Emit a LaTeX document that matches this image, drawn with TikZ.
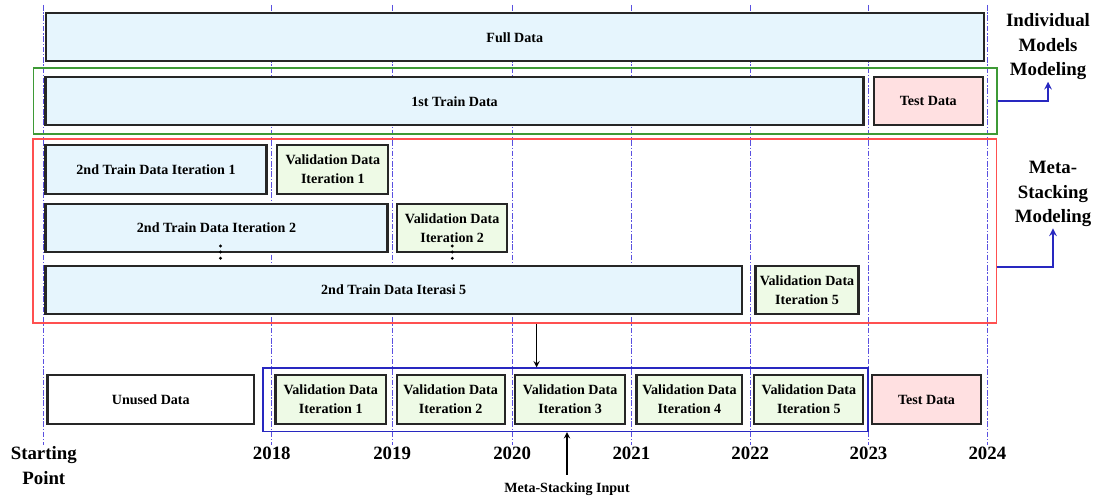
\documentclass[tikz,border=0pt]{standalone}
\usepackage{fontspec}
\setmainfont{Liberation Serif}
\usepackage{tikz}
\usepackage{xcolor}
\usetikzlibrary{positioning, fit, arrows.meta, calc}

\definecolor{trainfill}{HTML}{E6F5FD}
\definecolor{valfill}{HTML}{EEFAE6}
\definecolor{testfill}{HTML}{FFE0E1}
\definecolor{gridblue}{HTML}{5A50E0}
\definecolor{greenframe}{HTML}{3E9A36}
\definecolor{redframe}{HTML}{FF5050}
\definecolor{blueframe}{HTML}{2828C0}

\begin{document}
\begin{tikzpicture}[>=stealth, x=0.025cm, y=-0.025cm,
    font=\bfseries\fontsize{10}{13.5}\selectfont,
    databox/.style={draw=black!85, line width=1.6pt, inner sep=0pt, align=center},
    trainbox/.style={databox, fill=trainfill},
    valbox/.style={databox, fill=valfill},
    testbox/.style={databox, fill=testfill},
    boxsize/.style 2 args={minimum width=#1*0.025cm, minimum height=#2*0.025cm},
    frame/.style={inner sep=0pt, line width=1.1pt},
    gridline/.style={gridblue, line width=0.7pt, dash pattern=on 4pt off 1.2pt on 1pt off 1.2pt},
    yearlabel/.style={font=\bfseries\fontsize{13.4}{17.6}\selectfont, align=center, inner sep=1pt, anchor=north},
    sidelabel/.style={font=\bfseries\fontsize{13.4}{17.4}\selectfont, align=center, inner sep=1pt},
    linkarrow/.style={->, blueframe, line width=1.4pt},
    droparrow/.style={->, black, line width=1pt}
]
    % Fix the page size to the reference
    \useasboundingbox (0,0) rectangle (1102,499);

    % Time axis: labels and dashed year lines
    \node[yearlabel] (start) at (43.8,445) {Starting\\Point};
    \draw[gridline] (43.8,5) -- (start.north);
    \foreach \gx/\yr in {271.8/2018, 392.1/2019, 512.1/2020, 631.4/2021, 750.3/2022, 868.5/2023, 987.4/2024} {
        \node[yearlabel] (yr\yr) at (\gx,445) {\yr};
        \draw[gridline] (\gx,5) -- (yr\yr.north);
    }

    % Frames round the two modeling stages
    \node[frame, draw=greenframe, line width=1.4pt, fit={(33.5,67.7) (996.5,134)}] (indiv) {};
    \node[frame, draw=redframe, line width=1.2pt, fit={(33.3,138.9) (996.5,323)}] (meta) {};
    \node[frame, draw=blueframe, fit={(263,368.2) (868,431.3)}] (stackin) {};

    % Full data and first split
    \node[trainbox, boxsize={938}{48}] (full) at (514.75,37.35) {Full Data};
    \node[trainbox, boxsize={818}{48}] (train1) at (454.55,101.2) {1st Train Data};
    \node[testbox, boxsize={109}{48}] (test1) at (928.3,101.2) {Test Data};

    % Second split, iterations
    \node[trainbox, boxsize={221}{49}] (trainA) at (156,169.6) {2nd Train Data Iteration 1};
    \node[valbox, boxsize={111}{49}] (valA) at (332.85,169.6) {Validation Data\\Iteration 1};
    \node[trainbox, boxsize={342}{48.5}] (trainB) at (216.5,228) {2nd Train Data Iteration 2};
    \node[valbox, boxsize={109.6}{48.5}] (valB) at (452.1,228) {Validation Data\\Iteration 2};
    \node[trainbox, boxsize={696.4}{48}] (trainE) at (393.7,289.8) {2nd Train Data Iterasi 5};
    \node[valbox, boxsize={103}{48}] (valE) at (807,289.8) {Validation Data\\Iteration 5};

    % Vertical dots between iterations
    \foreach \dx in {220.5, 452.3} {
        \foreach \dy in {246, 252, 258.3} {
            \fill (\dx,\dy) circle (1.6);
        }
    }

    % Bottom row
    \node[databox, fill=white, boxsize={206.4}{49}] (unused) at (150.8,399.5) {Unused Data};
    \node[valbox, boxsize={110.3}{49}] (out1) at (330.75,399.5) {Validation Data\\Iteration 1};
    \node[valbox, boxsize={108}{49}] (out2) at (450.7,399.5) {Validation Data\\Iteration 2};
    \node[valbox, boxsize={110}{49}] (out3) at (570.15,399.5) {Validation Data\\Iteration 3};
    \node[valbox, boxsize={105.7}{49}] (out4) at (689.45,399.5) {Validation Data\\Iteration 4};
    \node[valbox, boxsize={109}{49}] (out5) at (808.85,399.5) {Validation Data\\Iteration 5};
    \node[testbox, boxsize={108.5}{49}] (test2) at (926.55,399.5) {Test Data};

    % Side labels and their links
    \node[sidelabel] (indivlabel) at (1048,47) {Individual\\Models\\Modeling};
    \node[sidelabel] (metalabel) at (1053,194) {Meta-\\Stacking\\Modeling};
    \draw[linkarrow] (indiv.east) -| (indivlabel.south);
    \coordinate (metalink) at (996.5,267);
    \draw[linkarrow] (metalink) -| (metalabel.south);

    % From meta stage down to its input
    \coordinate (drop) at (536.6,0);
    \draw[droparrow] (meta.south -| drop) -- (stackin.north -| drop);
    \node (inputlabel) at (567,489) {Meta-Stacking Input};
    \draw[droparrow] ([yshift=2pt]inputlabel.north) -- (stackin.south -| inputlabel.north);
\end{tikzpicture}
\end{document}
